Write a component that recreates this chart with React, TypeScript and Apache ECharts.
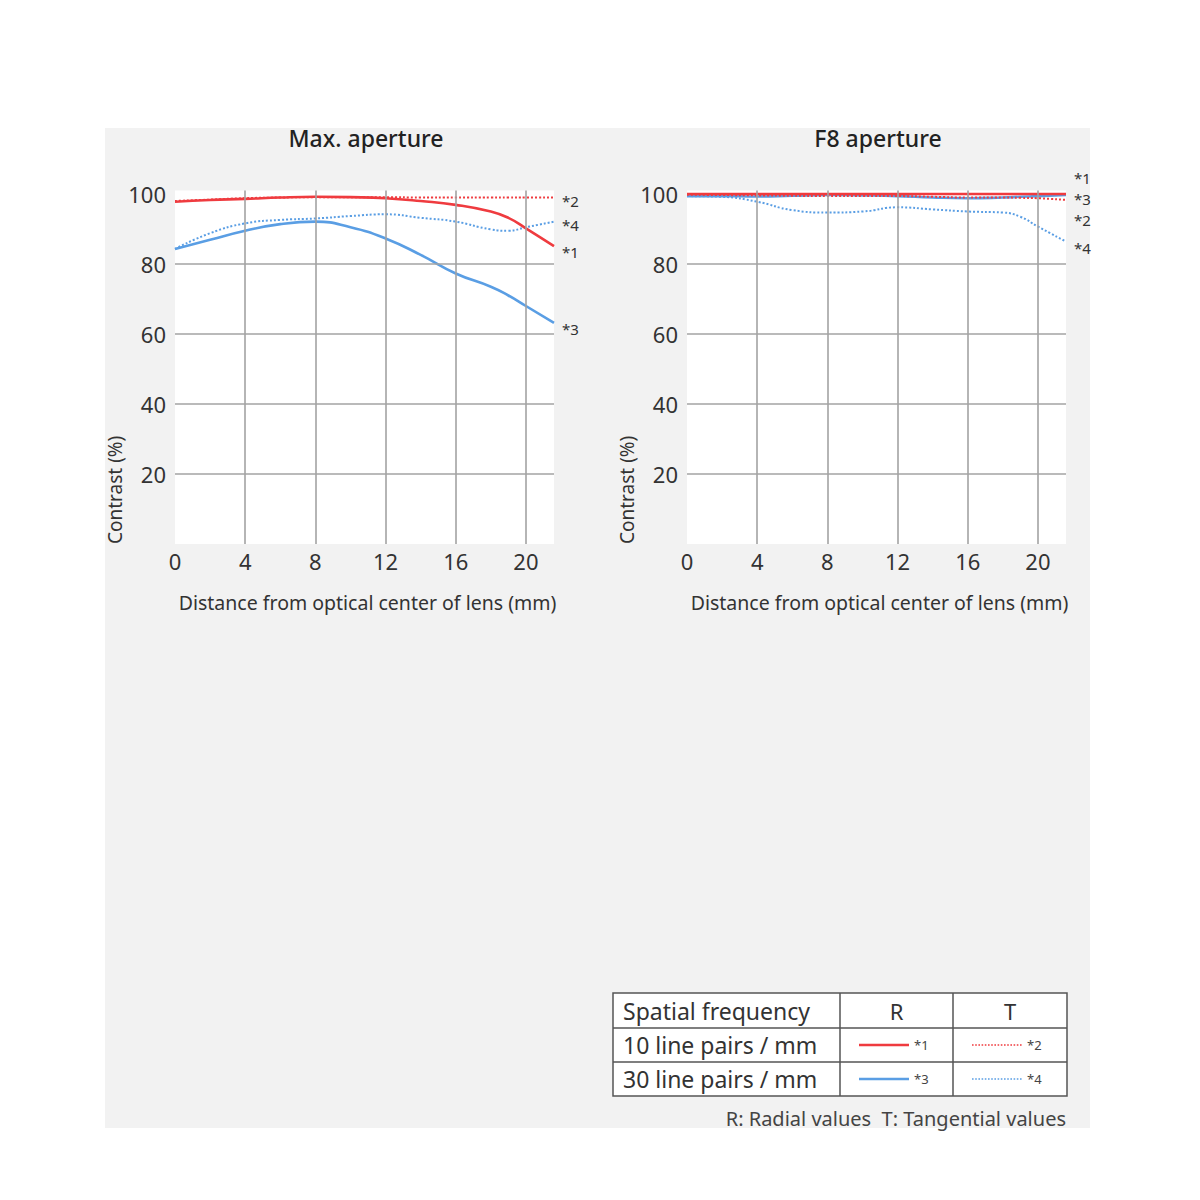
import React, { useEffect, useRef } from "react";
import * as echarts from "echarts";

// Distance from optical center (mm)
const distances = [0, 2, 4, 6, 8, 10, 12, 14, 16, 18, 19, 20, 21.6];

// Max. aperture
const maxR10 = [97.8, 98.3, 98.6, 99, 99.2, 99.1, 98.8, 98, 96.9, 95, 93.2, 90.2, 85.1];
const maxT10 = [98, 98.4, 98.8, 99, 99.1, 99.1, 99.1, 99, 99, 99, 99, 99, 99];
const maxR30 = [84.3, 86.9, 89.5, 91.4, 92.1, 90.5, 87.3, 82.6, 77.3, 73.5, 71, 68, 63.2];
const maxT30 = [84.3, 88.8, 91.6, 92.6, 93, 93.7, 94.2, 93.2, 92.1, 89.9, 89.5, 90.5, 92.1];

// F8 aperture
const f8R10 = [100, 100, 100, 100, 100, 100, 100, 100, 100, 100, 100, 100, 100];
const f8T10 = [99.8, 99.7, 99.6, 99.5, 99.4, 99.4, 99.4, 99.2, 99, 99, 98.9, 98.8, 98.3];
const f8R30 = [99.4, 99.4, 99.3, 99.5, 99.7, 99.6, 99.4, 99, 98.8, 99, 99.2, 99.4, 99.7];
const f8T30 = [99.4, 99.2, 97.8, 95.4, 94.7, 95, 96.2, 95.6, 95, 94.7, 93.5, 90.7, 86.4];

const panelTitles = ["Max. aperture", "F8 aperture"];
const xTicks = [4, 8, 12, 16, 20];
const yTicks = [20, 40, 60, 80];
const seriesMarks = ["*1", "*2", "*3", "*4"];
const xAxisName = "Distance from optical center of lens (mm)";
const yAxisName = "Contrast (%)";
const tableHeader = ["Spatial frequency", "R", "T"];
const tableRows = ["10 line pairs / mm", "30 line pairs / mm"];
const footnote = "R: Radial values  T: Tangential values";

const RED = "#ef3b3f";
const BLUE = "#5a9ee4";
const FONT = "Noto Sans";

const pair = (ys: number[]) => distances.map((x, i) => [x, ys[i]]);

export default function App() {
  const ref = useRef<HTMLDivElement>(null);
  useEffect(() => {
    if (!ref.current) return;
    const chart = echarts.init(ref.current, null, { renderer: "svg" });

    const gridLefts = [175, 687];
    const grids = gridLefts.map((l) => ({
      left: l,
      top: 190.5,
      width: 379,
      height: 353.5,
      show: true,
      backgroundColor: "#ffffff",
      borderWidth: 0,
    }));

    const xAxes = [0, 1].map((i) => ({
      type: "value",
      gridIndex: i,
      min: 0,
      max: 21.6,
      interval: 4,
      axisLine: { show: false },
      axisTick: { show: false },
      splitLine: { show: false },
      axisLabel: {
        margin: 6,
        color: "#333",
        fontSize: 22,
        fontFamily: FONT,
        formatter: (v: number) => (Math.abs(v % 4) < 1e-6 ? String(v) : ""),
      },
      name: xAxisName,
      nameLocation: "middle",
      nameGap: 48,
      nameTextStyle: { color: "#333", fontSize: 19.5, fontFamily: FONT, padding: [0, 0, 0, 6] },
    }));

    const yAxes = [0, 1].map((i) => ({
      type: "value",
      gridIndex: i,
      min: 0,
      max: 101,
      interval: 20,
      axisLine: { show: false },
      axisTick: { show: false },
      splitLine: { show: false },
      axisLabel: {
        margin: 9,
        color: "#333",
        fontSize: 22,
        fontFamily: FONT,
        formatter: (v: number) => (v > 0 && Math.abs(v % 20) < 1e-6 ? String(v) : ""),
      },
    }));

    const gridMarks = {
      silent: true,
      symbol: "none",
      label: { show: false },
      lineStyle: { color: "#a3a3a3", width: 1.6, type: "solid" },
      data: [
        ...xTicks.map((v) => ({ xAxis: v })),
        ...yTicks.map((v) => ({ yAxis: v })),
      ],
    };

    const mk = (
      idx: number,
      data: number[],
      color: string,
      dotted: boolean,
      mark: string,
      dy: number
    ) => ({
      type: "line",
      xAxisIndex: idx,
      yAxisIndex: idx,
      data: pair(data),
      smooth: true,
      showSymbol: false,
      symbol: "none",
      z: 3,
      lineStyle: dotted
        ? { color, width: 2, type: [2, 2] }
        : { color, width: 2.6, type: "solid" },
      endLabel: {
        show: true,
        formatter: mark,
        color: "#333",
        fontSize: 15,
        lineHeight: 15,
        fontFamily: FONT,
        offset: [0, dy],
      },
    });

    const helper = (idx: number) => ({
      type: "line",
      xAxisIndex: idx,
      yAxisIndex: idx,
      data: [],
      z: 1,
      markLine: gridMarks,
    });

    const series = [
      helper(0),
      mk(0, maxT30, BLUE, true, seriesMarks[3], 3),
      mk(0, maxR30, BLUE, false, seriesMarks[2], 6),
      mk(0, maxT10, RED, true, seriesMarks[1], 3),
      mk(0, maxR10, RED, false, seriesMarks[0], 6),
      helper(1),
      mk(1, f8T30, BLUE, true, seriesMarks[3], 6),
      mk(1, f8R30, BLUE, false, seriesMarks[2], 4),
      mk(1, f8T10, RED, true, seriesMarks[1], 20),
      mk(1, f8R10, RED, false, seriesMarks[0], -16),
    ];

    const border = "#555";
    const tx = 613, ty = 993, tw = 454, th = 103;
    const rowsY = [993, 1028, 1062, 1096];
    const colsX = [613, 840, 953, 1067];
    const rowMid = (i: number) => (rowsY[i] + rowsY[i + 1]) / 2;
    const colMid = (i: number) => (colsX[i] + colsX[i + 1]) / 2;

    const sample = (x: number, y: number, color: string, dotted: boolean, mark: string) => [
      {
        type: "line",
        shape: { x1: x, y1: y, x2: x + 50, y2: y },
        style: dotted
          ? { stroke: color, lineWidth: 1.6, lineDash: [1.6, 1.6] }
          : { stroke: color, lineWidth: 2.6 },
      },
      {
        type: "text",
        x: x + 55,
        y: y,
        style: {
          text: mark,
          fill: "#444",
          fontSize: 13,
          fontFamily: FONT,
          textVerticalAlign: "middle",
        },
      },
    ];

    const graphic = [
      {
        type: "rect",
        z: -10,
        shape: { x: 105, y: 128, width: 985, height: 1000 },
        style: { fill: "#f2f2f2" },
        silent: true,
      },
      ...gridLefts.map((l) => ({
        type: "text",
        x: l - 60,
        y: 544,
        rotation: Math.PI / 2,
        style: {
          text: yAxisName,
          fill: "#333",
          fontSize: 19,
          fontFamily: FONT,
          textAlign: "left",
          textVerticalAlign: "middle",
        },
      })),
      {
        type: "rect",
        shape: { x: tx, y: ty, width: tw, height: th },
        style: { fill: "#ffffff", stroke: border, lineWidth: 1.5 },
      },
      ...rowsY.slice(1, 3).map((y) => ({
        type: "line",
        shape: { x1: tx, y1: y, x2: tx + tw, y2: y },
        style: { stroke: border, lineWidth: 1.5 },
      })),
      ...colsX.slice(1, 3).map((x) => ({
        type: "line",
        shape: { x1: x, y1: ty, x2: x, y2: ty + th },
        style: { stroke: border, lineWidth: 1.5 },
      })),
      {
        type: "text",
        x: 623,
        y: rowMid(0),
        style: { text: tableHeader[0], fill: "#333", fontSize: 23, fontFamily: FONT, textVerticalAlign: "middle" },
      },
      {
        type: "text",
        x: colMid(1),
        y: rowMid(0),
        style: { text: tableHeader[1], fill: "#333", fontSize: 22, fontFamily: FONT, textAlign: "center", textVerticalAlign: "middle" },
      },
      {
        type: "text",
        x: colMid(2),
        y: rowMid(0),
        style: { text: tableHeader[2], fill: "#333", fontSize: 22, fontFamily: FONT, textAlign: "center", textVerticalAlign: "middle" },
      },
      ...tableRows.map((t, i) => ({
        type: "text",
        x: 623,
        y: rowMid(i + 1),
        style: { text: t, fill: "#333", fontSize: 23, fontFamily: FONT, textVerticalAlign: "middle" },
      })),
      ...sample(859, rowMid(1), RED, false, seriesMarks[0]),
      ...sample(972, rowMid(1), RED, true, seriesMarks[1]),
      ...sample(859, rowMid(2), BLUE, false, seriesMarks[2]),
      ...sample(972, rowMid(2), BLUE, true, seriesMarks[3]),
      {
        type: "text",
        x: 1066,
        y: 1118,
        style: { text: footnote, fill: "#444", fontSize: 20, fontFamily: FONT, textAlign: "right", textVerticalAlign: "middle" },
      },
    ];

    chart.setOption({
      animation: false,
      backgroundColor: "#ffffff",
      textStyle: { fontFamily: FONT },
      title: panelTitles.map((t, i) => ({
        text: t,
        left: gridLefts[i] + 186,
        top: 121,
        textAlign: "center",
        textStyle: { color: "#222", fontSize: 23, fontWeight: 500, fontFamily: FONT },
      })),
      grid: grids,
      xAxis: xAxes,
      yAxis: yAxes,
      series,
      graphic,
    });
    return () => chart.dispose();
  }, []);

  return (
    <div
      ref={ref}
      style={{ position: "absolute", left: 0, top: 0, width: 1200, height: 1200 }}
    />
  );
}
